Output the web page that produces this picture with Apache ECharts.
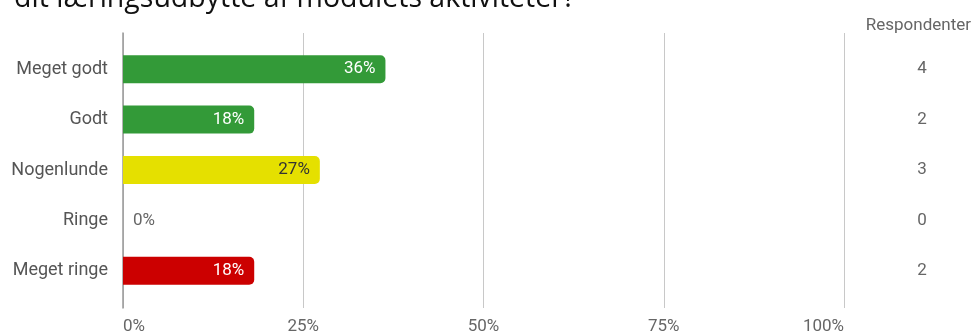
<!DOCTYPE html>
<html>
<head>
<meta charset="utf-8">
<script src="https://cdn.jsdelivr.net/npm/echarts@6/dist/echarts.min.js"></script>
<style>
  html, body { margin: 0; padding: 0; background: #fff; }
  #chart { width: 979px; height: 335px; }
</style>
</head>
<body>
<div id="chart"></div>
<script>
const categories = ["Meget godt", "Godt", "Nogenlunde", "Ringe", "Meget ringe"];
const percents = [36.4, 18.2, 27.3, 0, 18.2];
const percentLabels = ["36%", "18%", "27%", "0%", "18%"];
const respondents = [4, 2, 3, 0, 2];
const barColors = ["#339a38", "#339a38", "#e5e000", "#cc0000", "#cc0000"];
const labelColors = ["#fff", "#fff", "#333", "#666", "#fff"];
const xTicks = [0, 25, 50, 75, 100];

const font = "Roboto";

let myChart = echarts.init(document.getElementById("chart"));

const option = {
    animation: false,
    graphic: [{
        type: "text",
        x: -5,
        y: -16,
        style: {
            text: "r dit læringsudbytte af modulets aktiviteter?",
            font: "28.5px 'Open Sans'",
            fill: "#111"
        }
    }],
    title: {
        text: "Respondenter",
        right: 3,
        top: 12,
        textStyle: {fontFamily: font, fontSize: 17, fontWeight: "normal", color: "#666"}
    },
    grid: [
        {left: 123, right: 135, top: 33, bottom: 27},
        {left: 123, right: 135, top: 44, bottom: 39}
    ],
    xAxis: [{
        gridIndex: 0,
        type: "value",
        min: 0,
        max: 100,
        interval: 25,
        axisLine: {show: false},
        axisTick: {show: false},
        splitLine: {lineStyle: {color: "#c8c8c8", width: 1}},
        axisLabel: {
            fontFamily: font, fontSize: 17, color: "#666", margin: 10,
            alignMinLabel: "left",
            alignMaxLabel: "right",
            formatter: v => xTicks.includes(v) ? v + "%" : ""
        }
    }, {
        gridIndex: 1,
        type: "value",
        min: 0,
        max: 100,
        show: false
    }],
    yAxis: [{
        gridIndex: 0,
        type: "value",
        min: 0,
        max: 1,
        axisLine: {show: true, lineStyle: {color: "#999", width: 1.5}},
        axisTick: {show: false},
        axisLabel: {show: false},
        splitLine: {show: false}
    }, {
        gridIndex: 1,
        type: "category",
        inverse: true,
        data: categories,
        axisLine: {show: false},
        axisTick: {show: false},
        axisLabel: {fontFamily: font, fontSize: 18, color: "#555", margin: 15}
    }, {
        gridIndex: 1,
        type: "category",
        inverse: true,
        position: "right",
        data: respondents.map(String),
        axisLine: {show: false},
        axisTick: {show: false},
        axisLabel: {fontFamily: font, fontSize: 17, color: "#666", margin: 78, align: "center"}
    }],
    series: [{
        type: "bar",
        xAxisIndex: 1,
        yAxisIndex: 1,
        barWidth: 28,
        data: percents.map((v, i) => ({
            value: v,
            itemStyle: {color: barColors[i], borderRadius: [0, 5, 5, 0]},
            label: {
                color: labelColors[i],
                position: v === 0 ? "right" : "insideRight",
                distance: 10
            }
        })),
        label: {
            show: true,
            fontFamily: font,
            fontSize: 17,
            formatter: p => percentLabels[p.dataIndex]
        }
    }]
};

myChart.setOption(option);
window.addEventListener("resize", () => {
    myChart.resize();
});
</script>
</body>
</html>
